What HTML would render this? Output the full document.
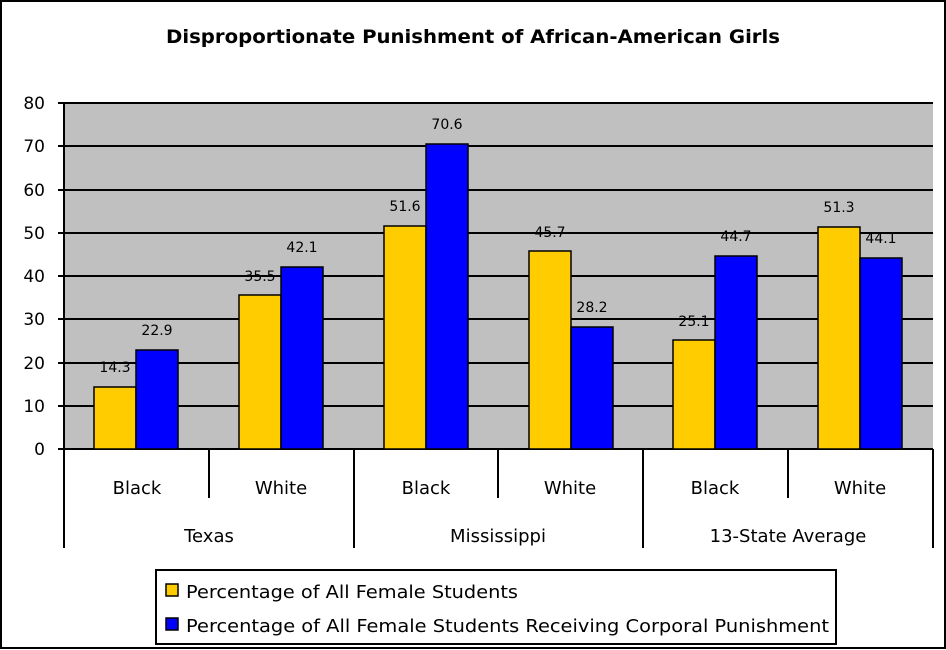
<!DOCTYPE html>
<html><head><style>body{margin:0;background:#fff}svg{display:block}text{font-family:"DejaVu Sans","Liberation Sans",sans-serif}</style></head><body>
<svg width="946" height="650" xmlns="http://www.w3.org/2000/svg">
<rect x="1" y="1" width="944" height="647" fill="#fff" stroke="#000" stroke-width="2"/>
<text x="166" y="43" font-size="19" font-weight="bold" textLength="614" lengthAdjust="spacingAndGlyphs" fill="#000">Disproportionate Punishment of African-American Girls</text>
<rect x="64" y="103" width="869" height="346" fill="#c0c0c0"/>
<g stroke="#000" stroke-width="2">
<line x1="58" y1="103" x2="933" y2="103"/><line x1="58" y1="146" x2="933" y2="146"/><line x1="58" y1="190" x2="933" y2="190"/><line x1="58" y1="233" x2="933" y2="233"/><line x1="58" y1="276" x2="933" y2="276"/><line x1="58" y1="319" x2="933" y2="319"/><line x1="58" y1="363" x2="933" y2="363"/><line x1="58" y1="406" x2="933" y2="406"/><line x1="58" y1="449" x2="933" y2="449"/>
<line x1="64" y1="103" x2="64" y2="548"/>
<line x1="209" y1="449" x2="209" y2="498"/><line x1="354" y1="449" x2="354" y2="548"/><line x1="498" y1="449" x2="498" y2="498"/><line x1="643" y1="449" x2="643" y2="548"/><line x1="788" y1="449" x2="788" y2="498"/><line x1="933" y1="449" x2="933" y2="548"/>
</g>
<g font-size="17" fill="#000" text-anchor="end">
<text x="45" y="109">80</text><text x="45" y="152">70</text><text x="45" y="196">60</text><text x="45" y="239">50</text><text x="45" y="282">40</text><text x="45" y="325">30</text><text x="45" y="369">20</text><text x="45" y="412">10</text><text x="45" y="455">0</text>
</g>
<g stroke="#000" stroke-width="1.5">
<rect x="94" y="387" width="42" height="62" fill="#ffcc00"/><rect x="136" y="350" width="42" height="99" fill="#0000ff"/>
<rect x="239" y="295" width="42" height="154" fill="#ffcc00"/><rect x="281" y="267" width="42" height="182" fill="#0000ff"/>
<rect x="384" y="226" width="42" height="223" fill="#ffcc00"/><rect x="426" y="144" width="42" height="305" fill="#0000ff"/>
<rect x="529" y="251" width="42" height="198" fill="#ffcc00"/><rect x="571" y="327" width="42" height="122" fill="#0000ff"/>
<rect x="673" y="340" width="42" height="109" fill="#ffcc00"/><rect x="715" y="256" width="42" height="193" fill="#0000ff"/>
<rect x="818" y="227" width="42" height="222" fill="#ffcc00"/><rect x="860" y="258" width="42" height="191" fill="#0000ff"/>
</g>
<g font-size="14" fill="#000" text-anchor="middle">
<text x="115" y="372">14.3</text><text x="157" y="335">22.9</text>
<text x="260" y="281">35.5</text><text x="302" y="252">42.1</text>
<text x="405" y="211">51.6</text><text x="447" y="129">70.6</text>
<text x="550" y="237">45.7</text><text x="592" y="312">28.2</text>
<text x="694" y="326">25.1</text><text x="736" y="241">44.7</text>
<text x="839" y="212">51.3</text><text x="881" y="243">44.1</text>
</g>
<g font-size="18" fill="#000" text-anchor="middle">
<text x="137" y="494">Black</text><text x="281" y="494">White</text><text x="426" y="494">Black</text><text x="570" y="494">White</text><text x="715" y="494">Black</text><text x="860" y="494">White</text>
<text x="209" y="542">Texas</text><text x="498" y="542">Mississippi</text><text x="788" y="542">13-State Average</text>
</g>
<rect x="156" y="570" width="680" height="74" fill="#fff" stroke="#000" stroke-width="2"/>
<rect x="166" y="584" width="12" height="12" fill="#ffcc00" stroke="#000" stroke-width="1.5"/>
<rect x="166" y="618" width="12" height="12" fill="#0000ff" stroke="#000" stroke-width="1.5"/>
<text x="186" y="598" font-size="18" textLength="332" lengthAdjust="spacingAndGlyphs">Percentage of All Female Students</text>
<text x="186" y="632" font-size="18" textLength="643" lengthAdjust="spacingAndGlyphs">Percentage of All Female Students Receiving Corporal Punishment</text>
</svg>
</body></html>
